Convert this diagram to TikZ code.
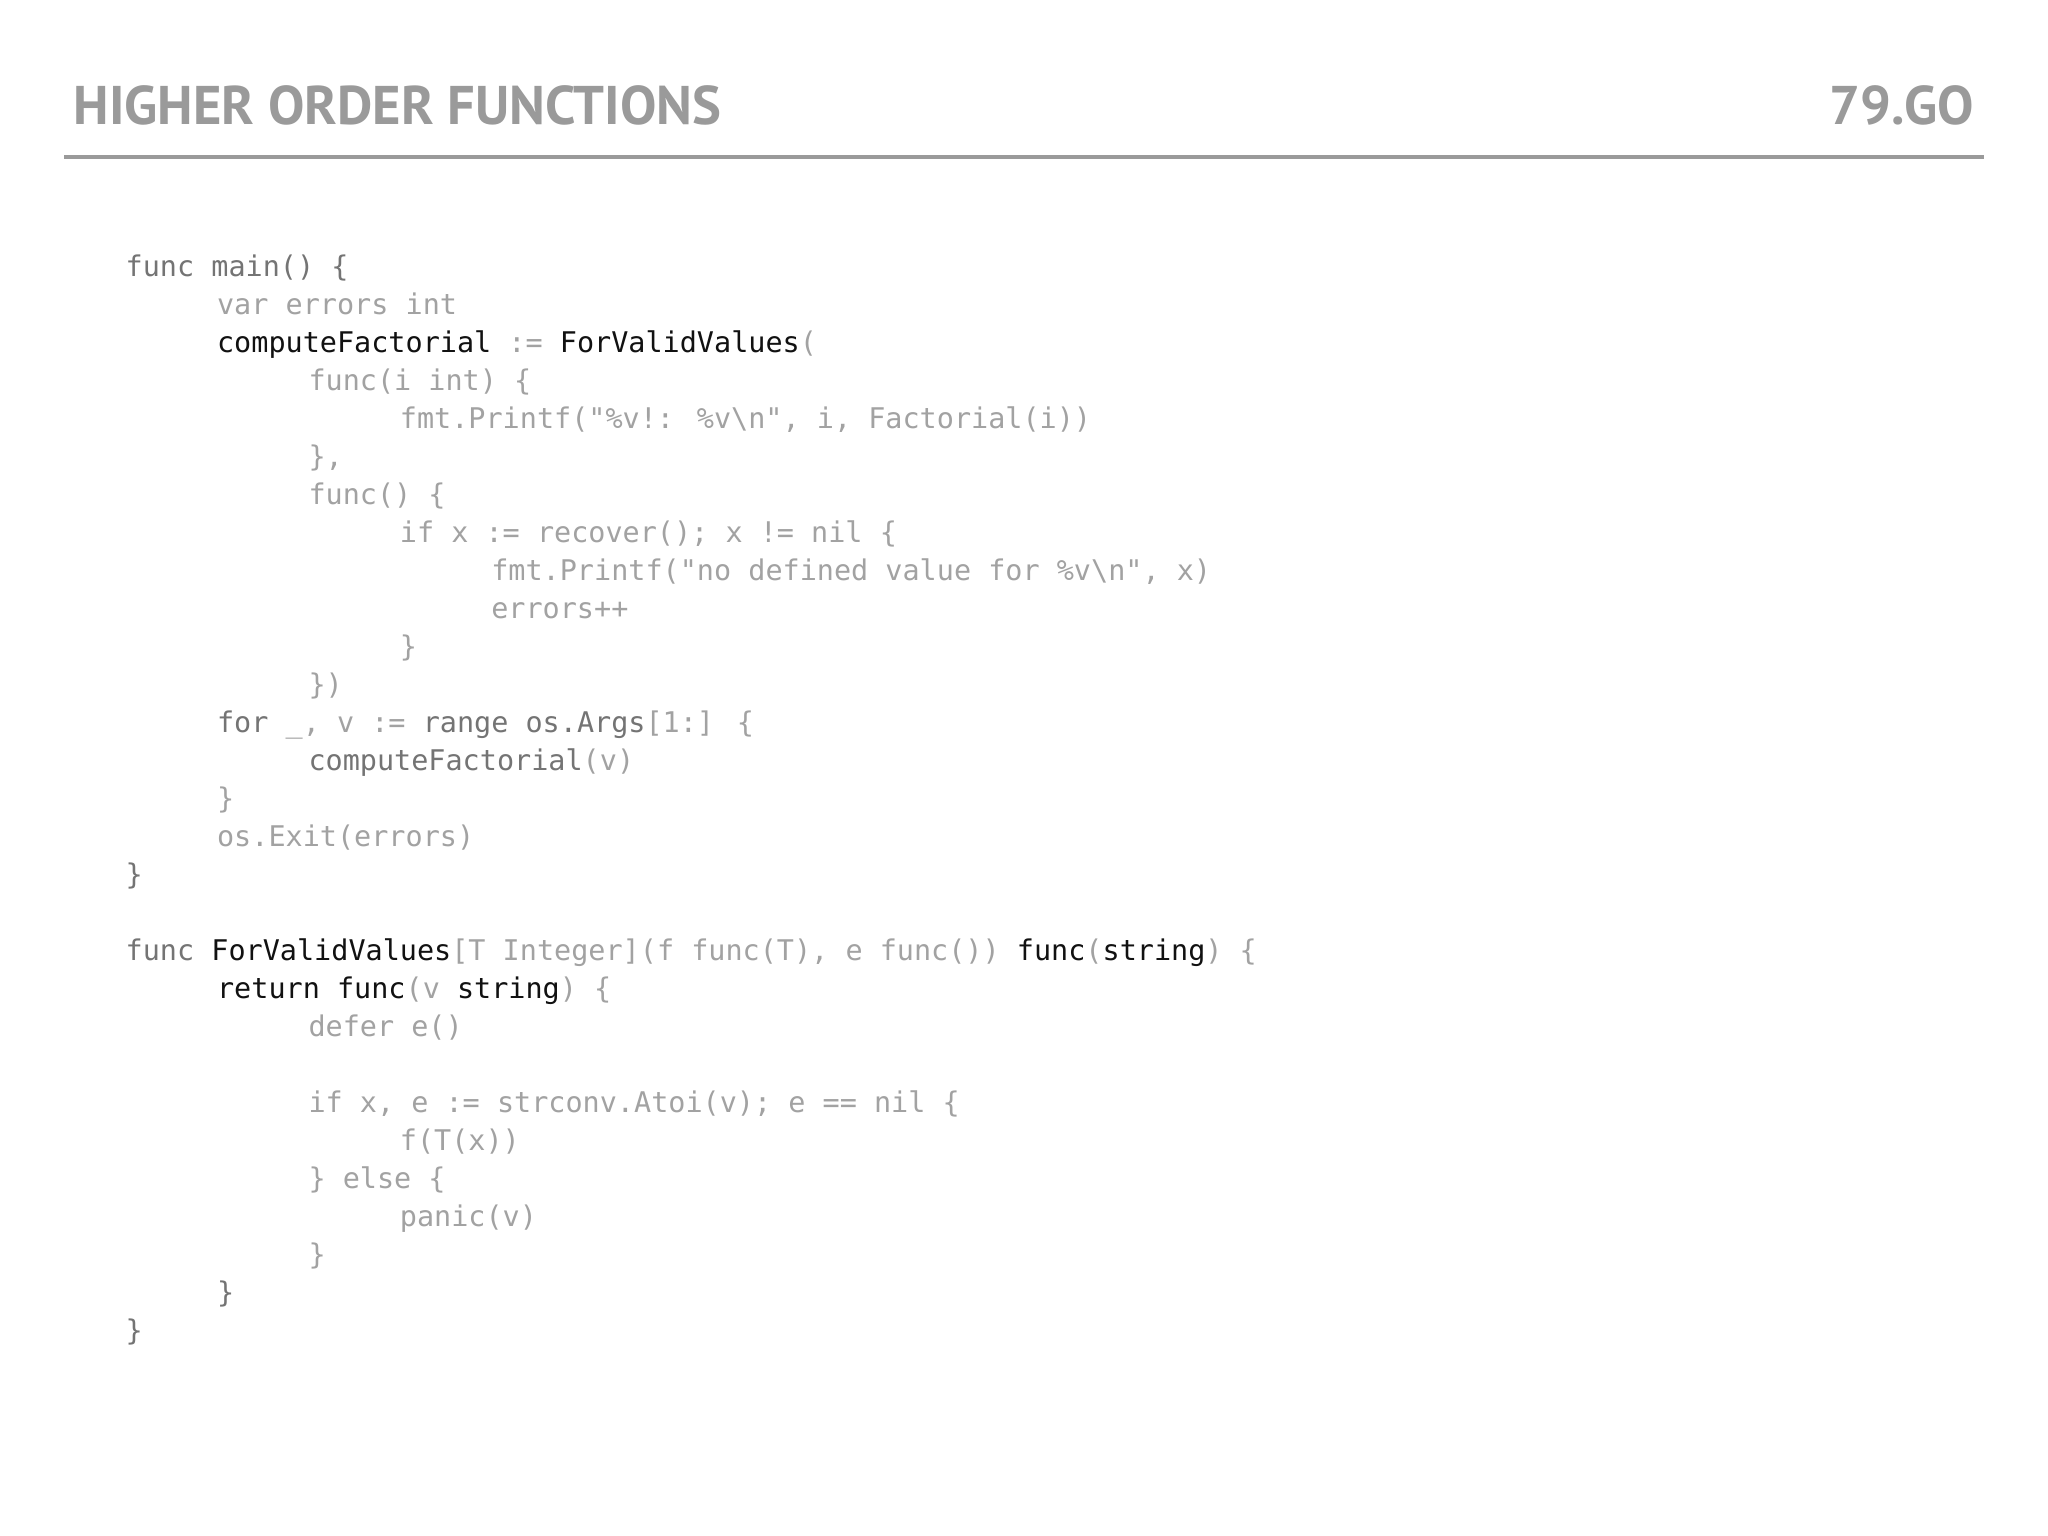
\documentclass[tikz,border=0pt]{standalone}
\usepackage{fontspec}
\newfontfamily\codef{DejaVu Sans Mono}
\newfontfamily\titlef{PT Sans}
\definecolor{lg}{HTML}{A2A2A2}
\definecolor{mg}{HTML}{747474}
\definecolor{dk}{HTML}{111111}
\definecolor{tg}{HTML}{9A9A9A}
\newcommand\Lc[1]{\textcolor{lg}{#1}}
\newcommand\Mc[1]{\textcolor{mg}{#1}}
\newcommand\Kc[1]{\textcolor{dk}{#1}}
\tikzset{codeln/.style={anchor=base west,inner sep=0pt,font=\codef\fontsize{8.1pt}{9pt}\selectfont,text=lg},
 ttl/.style={inner sep=0pt,font=\titlef\bfseries\fontsize{15.5pt}{16pt}\selectfont,text=tg}}
\begin{document}
\begin{tikzpicture}
\useasboundingbox[fill=white] (0,0) rectangle (20.48,15.36);
\node[ttl,anchor=base west] (title) at (0.73,15.36-1.25) {HIGHER ORDER FUNCTIONS};
\node[ttl,anchor=base east] (num) at (19.75,15.36-1.25) {79.GO};
\draw[tg,line width=1.2pt] (0.64,15.36-1.57) -- (19.84,15.36-1.57);
\def\ya{0}
\foreach \k/\lv/\txt in {
0/0/{\Mc{func main() \{}},
1/1/{\Lc{var errors int}},
2/1/{\Kc{computeFactorial} \Lc{:=} \Kc{ForValidValues}\Lc{(}},
3/2/{\Lc{func(i int) \{}},
4/3/{\Lc{fmt.Printf("\%v!: \%v\textbackslash n", i, Factorial(i))}},
5/2/{\Lc{\},}},
6/2/{\Lc{func() \{}},
7/3/{\Lc{if x := recover(); x != nil \{}},
8/4/{\Lc{fmt.Printf("no defined value for \%v\textbackslash n", x)}},
9/4/{\Lc{errors++}},
10/3/{\Lc{\}}},
11/2/{\Lc{\})}},
12/1/{\Mc{for} \Lc{\_, v :=} \Mc{range os.Args}\Lc{[1:] \{}},
13/2/{\Mc{computeFactorial}\Lc{(v)}},
14/1/{\Lc{\}}},
15/1/{\Lc{os.Exit(errors)}},
16/0/{\Mc{\}}},
18/0/{\Mc{func} \Kc{ForValidValues}\Lc{[T Integer](f func(T), e func())} \Kc{func}\Lc{(}\Kc{string}\Lc{) \{}},
19/1/{\Kc{return func}\Lc{(v} \Kc{string}\Lc{) \{}},
20/2/{\Lc{defer e()}},
22/2/{\Lc{if x, e := strconv.Atoi(v); e == nil \{}},
23/3/{\Lc{f(T(x))}},
24/2/{\Lc{\} else \{}},
25/3/{\Lc{panic(v)}},
26/2/{\Lc{\}}},
27/1/{\Mc{\}}},
28/0/{\Mc{\}}}}
{\node[codeln] (ln\k) at ({1.25+0.914*\lv},{15.36-(2.77+0.38*\k)}) {\txt};}
\end{tikzpicture}
\end{document}
